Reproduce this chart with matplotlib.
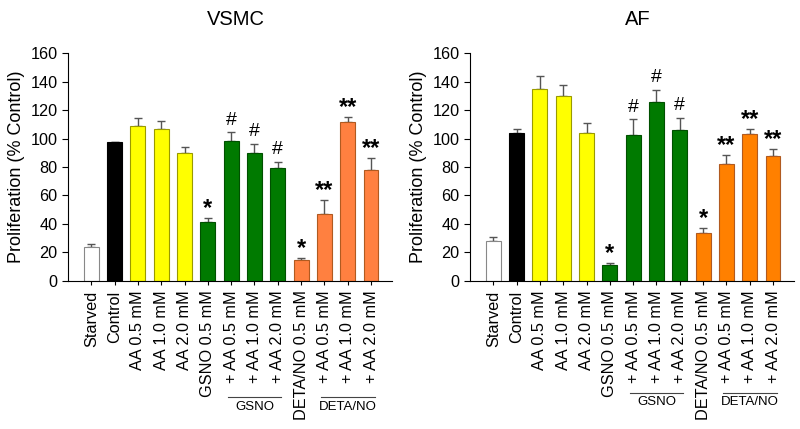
import numpy as np
import matplotlib
matplotlib.use("Agg")
import matplotlib.pyplot as plt

plt.rcParams["font.family"] = ["Liberation Sans", "DejaVu Sans"]

labels = ["Starved", "Control", "AA 0.5 mM", "AA 1.0 mM", "AA 2.0 mM",
          "GSNO 0.5 mM", "+ AA 0.5 mM", "+ AA 1.0 mM", "+ AA 2.0 mM",
          "DETA/NO 0.5 mM", "+ AA 0.5 mM", "+ AA 1.0 mM", "+ AA 2.0 mM"]

vsmc_mean = [23.5, 97.4, 109, 107, 89.6, 41, 98, 89.6, 79, 14.5, 46.7, 112, 77.7]
vsmc_err = [2.5, 0.3, 5.5, 5.6, 4.7, 3.3, 6.3, 6.8, 4.8, 1.5, 10, 3.2, 8.4]
vsmc_sig = ["", "", "", "", "", "*", "#", "#", "#", "*", "**", "**", "**"]

af_mean = [27.7, 103.7, 134.9, 129.7, 104.2, 10.8, 102.3, 125.5, 106.3, 33.5, 81.9, 103.2, 88]
af_err = [2.8, 3, 9, 7.8, 6.5, 1.4, 11.2, 8.9, 8.4, 3.8, 6.3, 3.8, 4.7]
af_sig = ["", "", "", "", "", "*", "#", "#", "#", "*", "**", "**", "**"]

groups = ["GSNO", "DETA/NO"]

base_colors = ["white", "black", "#ffff00", "#ffff00", "#ffff00",
               "#007a00", "#007a00", "#007a00", "#007a00"]
base_edges = ["#888888", "black", "#9a9a00", "#9a9a00", "#9a9a00",
              "#005000", "#005000", "#005000", "#005000"]


def panel(ax, mean, err, sig, orange, title, tx, line_y, text_y):
    x = np.arange(len(mean))
    colors = base_colors + [orange] * 4
    edges = base_edges + ["#b05a20"] * 4
    ax.bar(x, mean, width=0.64, color=colors, edgecolor=edges, linewidth=0.8, zorder=2)
    ax.errorbar(x, mean, yerr=[np.zeros(len(err)), err], fmt="none",
                ecolor="#555555", elinewidth=1, capsize=3, capthick=1, zorder=1)
    for xi, m, e, s in zip(x, mean, err, sig):
        if s == "#":
            ax.text(xi, m + e + 5.5, s, ha="center", va="baseline", fontsize=14)
        elif s:
            ax.text(xi, m + e + 2, s, ha="center", va="baseline",
                    fontsize=17, fontweight="bold")
    ax.set_xlim(-1.0, 12.9)
    ax.set_ylim(0, 160)
    ax.set_yticks(np.arange(0, 161, 20))
    ax.set_xticks(x)
    ax.set_xticklabels(labels, rotation=90, fontsize=11.7)
    ax.tick_params(axis="y", labelsize=11.7, length=4, direction="out")
    ax.tick_params(axis="x", length=3, direction="out", pad=4)
    ax.spines["top"].set_visible(False)
    ax.spines["right"].set_visible(False)
    ax.set_ylabel("Proliferation (% Control)", fontsize=13)
    ax.yaxis.set_label_coords(-0.133, 0.5)
    fig.text(tx, 0.955, title, ha="center", va="center", fontsize=14.5)

    # group brackets under the tick labels
    for (a, b), name in zip([(6, 8), (10, 12)], groups):
        ax.plot([a - 0.15, b + 0.15], [line_y, line_y], color="#444444", lw=0.8,
                transform=ax.get_xaxis_transform(), clip_on=False)
        ax.text((a + b) / 2, text_y, name, ha="center", va="center", fontsize=9.5,
                transform=ax.get_xaxis_transform())


fig = plt.figure(figsize=(8, 4.29), dpi=100)
ax1 = fig.add_axes([0.085, 0.3457, 0.405, 0.530])
ax2 = fig.add_axes([0.5875, 0.3457, 0.405, 0.530])

panel(ax1, vsmc_mean, vsmc_err, vsmc_sig, "#ff8040", "VSMC", 0.295, -0.51, -0.555)
panel(ax2, af_mean, af_err, af_sig, "#ff8000", "AF", 0.797, -0.495, -0.535)

fig.savefig("out.png", dpi=100)
